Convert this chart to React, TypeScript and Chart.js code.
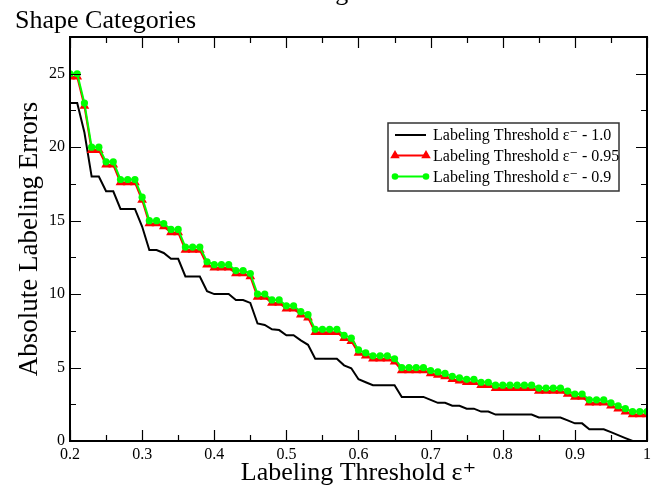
import React, { useEffect, useRef } from "react";
import { Chart, registerables } from "chart.js";

Chart.register(...registerables);

// ---------- data ----------
const X_VALUES = [
  0.2, 0.21, 0.22, 0.23, 0.24, 0.25, 0.26, 0.27, 0.28, 0.29,
  0.3, 0.31, 0.32, 0.33, 0.34, 0.35, 0.36, 0.37, 0.38, 0.39,
  0.4, 0.41, 0.42, 0.43, 0.44, 0.45, 0.46, 0.47, 0.48, 0.49,
  0.5, 0.51, 0.52, 0.53, 0.54, 0.55, 0.56, 0.57, 0.58, 0.59,
  0.6, 0.61, 0.62, 0.63, 0.64, 0.65, 0.66, 0.67, 0.68, 0.69,
  0.7, 0.71, 0.72, 0.73, 0.74, 0.75, 0.76, 0.77, 0.78, 0.79,
  0.8, 0.81, 0.82, 0.83, 0.84, 0.85, 0.86, 0.87, 0.88, 0.89,
  0.9, 0.91, 0.92, 0.93, 0.94, 0.95, 0.96, 0.97, 0.98, 0.99,
  1.0,
];

// Labeling Threshold eps- = 1.0 (black)
const ERR_EPS_1_0 = [
  23.0, 23.0, 21.0, 18.0, 18.0, 17.0, 17.0, 15.8, 15.8, 15.8,
  14.6, 13.0, 13.0, 12.8, 12.4, 12.4, 11.2, 11.2, 11.2, 10.2,
  10.0, 10.0, 10.0, 9.6, 9.6, 9.4, 8.0, 7.9, 7.6, 7.55,
  7.2, 7.2, 6.85, 6.55, 5.6, 5.6, 5.6, 5.6, 5.15, 4.95,
  4.2, 4.0, 3.8, 3.8, 3.8, 3.8, 3.0, 3.0, 3.0, 3.0,
  2.8, 2.6, 2.6, 2.4, 2.4, 2.2, 2.2, 2.0, 2.0, 1.8,
  1.8, 1.8, 1.8, 1.8, 1.8, 1.6, 1.6, 1.6, 1.6, 1.4,
  1.2, 1.2, 0.8, 0.8, 0.8, 0.6, 0.4, 0.2, 0.0, 0.0,
  0.0,
];

// Labeling Threshold eps- = 0.95 (red, triangles)
const ERR_EPS_0_95 = [
  24.8, 24.8, 22.8, 19.8, 19.8, 18.8, 18.8, 17.6, 17.6, 17.6,
  16.4, 14.8, 14.8, 14.6, 14.2, 14.2, 13.0, 13.0, 13.0, 12.0,
  11.8, 11.8, 11.8, 11.4, 11.4, 11.2, 9.8, 9.8, 9.4, 9.4,
  9.0, 9.0, 8.6, 8.4, 7.4, 7.4, 7.4, 7.4, 7.0, 6.8,
  6.0, 5.8, 5.6, 5.6, 5.6, 5.4, 4.8, 4.8, 4.8, 4.8,
  4.6, 4.5, 4.4, 4.2, 4.1, 4.0, 4.0, 3.8, 3.8, 3.6,
  3.6, 3.6, 3.6, 3.6, 3.6, 3.4, 3.4, 3.4, 3.4, 3.2,
  3.0, 3.0, 2.6, 2.6, 2.6, 2.4, 2.2, 2.0, 1.8, 1.8,
  1.8,
];

// Labeling Threshold eps- = 0.9 (green, circles)
const ERR_EPS_0_9 = [
  25.0, 25.0, 23.0, 20.0, 20.0, 19.0, 19.0, 17.8, 17.8, 17.8,
  16.6, 15.0, 15.0, 14.8, 14.4, 14.4, 13.2, 13.2, 13.2, 12.2,
  12.0, 12.0, 12.0, 11.6, 11.6, 11.4, 10.0, 10.0, 9.6, 9.6,
  9.2, 9.2, 8.8, 8.6, 7.6, 7.6, 7.6, 7.6, 7.2, 7.0,
  6.2, 6.0, 5.8, 5.8, 5.8, 5.6, 5.0, 5.0, 5.0, 5.0,
  4.8, 4.7, 4.6, 4.4, 4.3, 4.2, 4.2, 4.0, 4.0, 3.8,
  3.8, 3.8, 3.8, 3.8, 3.8, 3.6, 3.6, 3.6, 3.6, 3.4,
  3.2, 3.2, 2.8, 2.8, 2.8, 2.6, 2.4, 2.2, 2.0, 2.0,
  2.0,
];

const X_TICKS = [0.2, 0.3, 0.4, 0.5, 0.6, 0.7, 0.8, 0.9, 1.0];
const X_TICK_LABELS = ["0.2", "0.3", "0.4", "0.5", "0.6", "0.7", "0.8", "0.9", "1"];
const Y_TICKS = [0, 5, 10, 15, 20, 25];
const Y_TICK_LABELS = ["0", "5", "10", "15", "20", "25"];
const X_MIN = 0.2;
const X_MAX = 1.0;
const Y_MIN = 0;
const Y_MAX = 27.5;

const SERIES_NAMES = [
  "Labeling Threshold ε⁻ - 1.0",
  "Labeling Threshold ε⁻ - 0.95",
  "Labeling Threshold ε⁻ - 0.9",
];
const X_TITLE = "Labeling Threshold ε⁺";
const Y_TITLE = "Absolute Labeling Errors";
const SUBTITLE = "Shape Categories";
const TOP_TITLE = "Labeling Threshold";

// ---------- styles ----------
const FONT = "'Liberation Serif', 'Times New Roman', 'DejaVu Serif', serif";
const BLACK = "#000000";
const RED = "#ff0000";
const GREEN = "#00ff00";

const toPoints = (ys: number[]) => X_VALUES.map((x, i) => ({ x, y: ys[i] }));

const framePlugin = {
  id: "xmgraceFrame",
  afterDraw(chart: any) {
    const { ctx, chartArea, scales } = chart;
    const { left, right, top, bottom } = chartArea;
    const xs = scales.x;
    const ys = scales.y;
    ctx.save();
    ctx.strokeStyle = BLACK;

    // tick marks (inward, all four sides)
    const MAJOR = 11;
    const MINOR = 6;
    ctx.lineWidth = 1.2;
    ctx.beginPath();
    X_TICKS.forEach((v, i) => {
      const px = Math.round(xs.getPixelForValue(v)) + 0.5;
      ctx.moveTo(px, bottom);
      ctx.lineTo(px, bottom - MAJOR);
      ctx.moveTo(px, top);
      ctx.lineTo(px, top + MAJOR);
      if (i < X_TICKS.length - 1) {
        const m = Math.round(xs.getPixelForValue((v + X_TICKS[i + 1]) / 2)) + 0.5;
        ctx.moveTo(m, bottom);
        ctx.lineTo(m, bottom - MINOR);
        ctx.moveTo(m, top);
        ctx.lineTo(m, top + MINOR);
      }
    });
    Y_TICKS.forEach((v, i) => {
      const py = Math.round(ys.getPixelForValue(v)) + 0.5;
      ctx.moveTo(left, py);
      ctx.lineTo(left + MAJOR, py);
      ctx.moveTo(right, py);
      ctx.lineTo(right - MAJOR, py);
      if (i < Y_TICKS.length - 1) {
        const m = Math.round(ys.getPixelForValue((v + Y_TICKS[i + 1]) / 2)) + 0.5;
        ctx.moveTo(left, m);
        ctx.lineTo(left + MINOR, m);
        ctx.moveTo(right, m);
        ctx.lineTo(right - MINOR, m);
      }
    });
    ctx.stroke();

    // frame
    ctx.lineWidth = 2;
    ctx.strokeRect(left, top, right - left, bottom - top);

    // titles
    ctx.fillStyle = BLACK;
    ctx.font = `26px ${FONT}`;
    ctx.textAlign = "left";
    ctx.textBaseline = "alphabetic";
    ctx.fillText(SUBTITLE, 15, 28);
    ctx.textAlign = "center";
    ctx.fillText(TOP_TITLE, 358, 0);

    // legend
    const LX = 388, LY = 123, LW = 231, LH = 68;
    ctx.fillStyle = "#ffffff";
    ctx.fillRect(LX, LY, LW, LH);
    ctx.strokeStyle = "#333333";
    ctx.lineWidth = 1.5;
    ctx.strokeRect(LX, LY, LW, LH);
    const rows = [135, 155.5, 176.5];
    const colors = [BLACK, RED, GREEN];
    const sx0 = 395, sx1 = 426;
    rows.forEach((ry, i) => {
      ctx.strokeStyle = colors[i];
      ctx.lineWidth = 2;
      ctx.beginPath();
      ctx.moveTo(sx0, ry);
      ctx.lineTo(sx1, ry);
      ctx.stroke();
      ctx.fillStyle = colors[i];
      [sx0, sx1].forEach((sx) => {
        if (i === 1) {
          const r = 5.5;
          ctx.beginPath();
          ctx.moveTo(sx, ry - r);
          ctx.lineTo(sx + r * 0.866, ry + r * 0.5);
          ctx.lineTo(sx - r * 0.866, ry + r * 0.5);
          ctx.closePath();
          ctx.fill();
        } else if (i === 2) {
          ctx.beginPath();
          ctx.arc(sx, ry, 3.3, 0, Math.PI * 2);
          ctx.fill();
        }
      });
      ctx.fillStyle = BLACK;
      ctx.font = `16px ${FONT}`;
      ctx.textAlign = "left";
      ctx.textBaseline = "middle";
      ctx.fillText(SERIES_NAMES[i], 433, ry + 1);
    });

    ctx.restore();
  },
};

export default function App() {
  const ref = useRef<HTMLCanvasElement>(null);

  useEffect(() => {
    if (!ref.current) return;
    const chart = new Chart(ref.current, {
      type: "line",
      data: {
        datasets: [
          {
            label: SERIES_NAMES[2],
            data: toPoints(ERR_EPS_0_9),
            borderColor: GREEN,
            backgroundColor: GREEN,
            borderWidth: 2,
            pointStyle: "circle",
            pointRadius: 3.6,
            pointBorderWidth: 0,
            pointBackgroundColor: GREEN,
            tension: 0,
            order: 0,
          },
          {
            label: SERIES_NAMES[1],
            data: toPoints(ERR_EPS_0_95),
            borderColor: RED,
            backgroundColor: RED,
            borderWidth: 2,
            pointStyle: "triangle",
            pointRadius: 5.6,
            pointBorderWidth: 0,
            pointBackgroundColor: RED,
            tension: 0,
            order: 1,
          },
          {
            label: SERIES_NAMES[0],
            data: toPoints(ERR_EPS_1_0),
            borderColor: BLACK,
            backgroundColor: BLACK,
            borderWidth: 2,
            pointRadius: 0,
            tension: 0,
            order: 2,
          },
        ],
      },
      options: {
        responsive: false,
        animation: false,
        devicePixelRatio: 1,
        layout: { padding: { left: 0, right: 19, top: 37, bottom: 0 } },
        plugins: {
          legend: { display: false },
          tooltip: { enabled: false },
          title: { display: false },
        },
        scales: {
          x: {
            type: "linear",
            min: X_MIN,
            max: X_MAX,
            afterBuildTicks: (s: any) => {
              s.ticks = X_TICKS.map((value) => ({ value }));
            },
            afterFit: (s: any) => {
              s.height = 48;
            },
            ticks: {
              autoSkip: false,
              maxRotation: 0,
              padding: 4,
              color: BLACK,
              font: { family: FONT, size: 16 },
              callback: (_v: any, i: number) => X_TICK_LABELS[i],
            },
            grid: { display: false, drawTicks: false },
            border: { display: false },
            title: {
              display: true,
              text: X_TITLE,
              color: BLACK,
              font: { family: FONT, size: 26 },
              padding: { top: 0, bottom: 0 },
            },
          },
          y: {
            type: "linear",
            min: Y_MIN,
            max: Y_MAX,
            afterBuildTicks: (s: any) => {
              s.ticks = Y_TICKS.map((value) => ({ value }));
            },
            afterFit: (s: any) => {
              s.width = 70;
            },
            ticks: {
              autoSkip: false,
              padding: 5,
              color: BLACK,
              font: { family: FONT, size: 16 },
              callback: (_v: any, i: number) => Y_TICK_LABELS[i],
            },
            grid: { display: false, drawTicks: false },
            border: { display: false },
            title: {
              display: true,
              text: Y_TITLE,
              color: BLACK,
              font: { family: FONT, size: 27 },
              padding: { top: 14, bottom: 0 },
            },
          },
        },
      },
      plugins: [framePlugin],
    } as any);
    return () => chart.destroy();
  }, []);

  return (
    <div
      style={{
        position: "absolute",
        left: 0,
        top: 0,
        width: 666,
        height: 489,
        background: "#ffffff",
      }}
    >
      <canvas
        ref={ref}
        width={666}
        height={489}
        style={{ display: "block", width: 666, height: 489 }}
      />
    </div>
  );
}
